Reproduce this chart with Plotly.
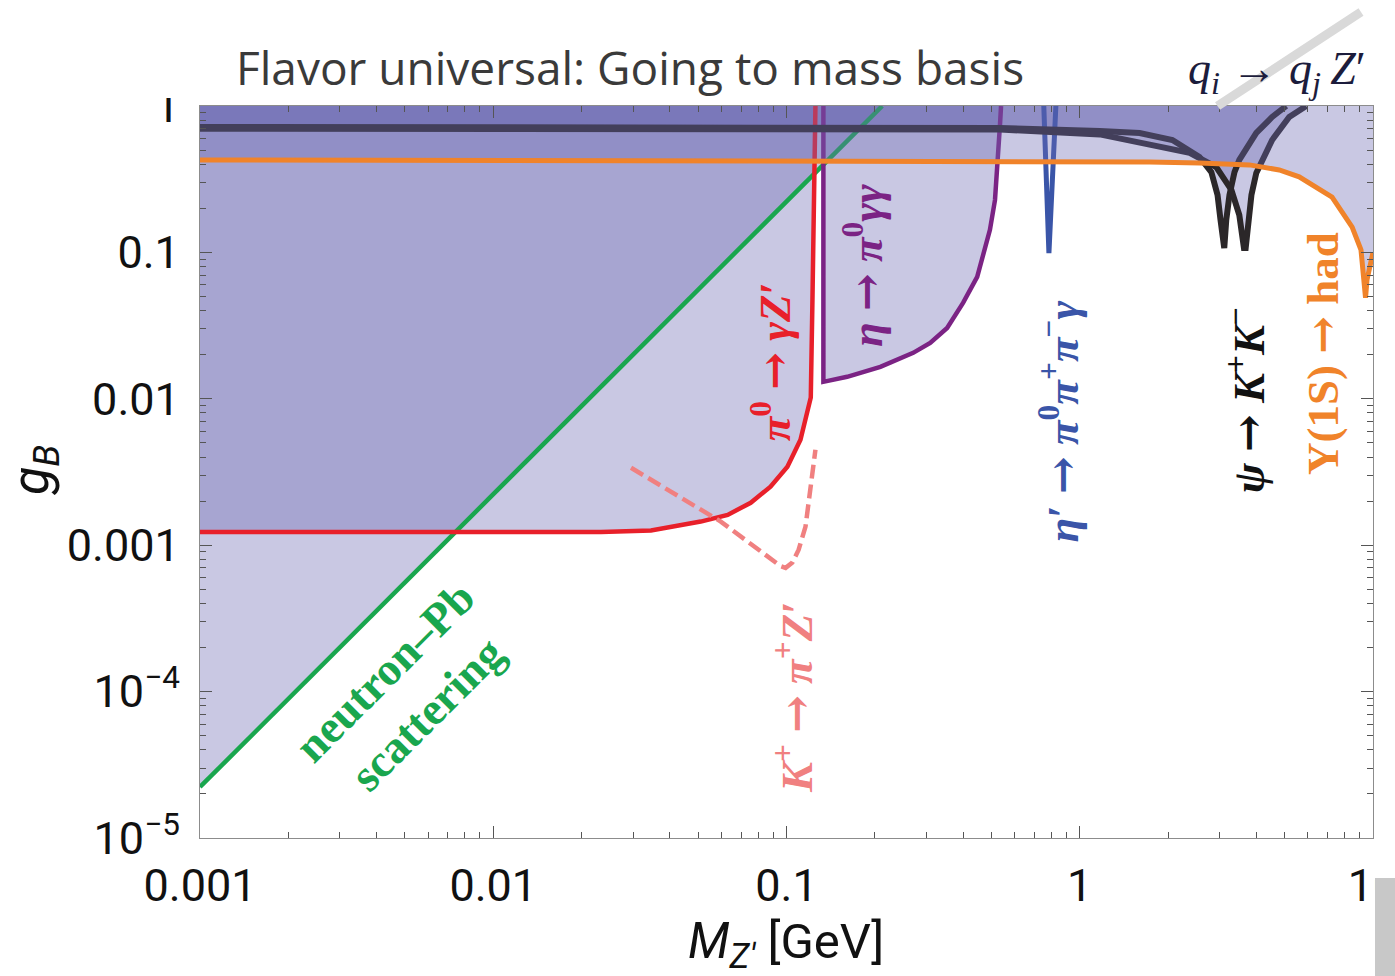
import numpy as np
import plotly.graph_objects as go

W, H = 1395, 976

# ---------------- data ----------------
# neutron-Pb scattering (green)
neutron_M = [0.001, 0.212]
neutron_g = [2.23e-5, 1.0]

# pi0 -> gamma Z' (red)
pi0_M = [0.001, 0.0233, 0.0345, 0.0510, 0.0630, 0.0755, 0.0882, 0.1007, 0.1116, 0.118, 0.121, 0.1226, 0.1255]
pi0_g = [1.23e-3, 1.23e-3, 1.26e-3, 1.45e-3, 1.61e-3, 1.95e-3, 2.51e-3, 3.43e-3, 5.25e-3, 8.02e-3, 0.0102, 0.0474, 1.0]

# K+ -> pi+ Z' (pink dashed)
kaon_M = [0.0295, 0.0597, 0.0954, 0.0993, 0.1047, 0.110, 0.1161, 0.121, 0.1255]
kaon_g = [3.38e-3, 1.45e-3, 7.2e-4, 7.0e-4, 7.6e-4, 9.31e-4, 1.34e-3, 2.39e-3, 4.49e-3]

# eta -> pi0 gamma gamma (purple)
eta_M = [0.1336, 0.1336, 0.161, 0.209, 0.2704, 0.309, 0.353, 0.400, 0.447, 0.468, 0.494, 0.514, 0.526, 0.535, 0.539]
eta_g = [1.0, 0.01306, 0.01413, 0.01653, 0.0206, 0.0241, 0.0305, 0.0452, 0.0681, 0.0932, 0.1425, 0.228, 0.408, 0.765, 1.0]

# eta' -> pi0 pi+ pi- gamma (blue)
etap_M = [0.754, 0.785, 0.829]
etap_g = [1.0, 0.099, 1.0]

# psi -> K+ K- (black, two resonances)
psi1_M = [0.001, 0.535, 1.17, 1.60, 2.07, 2.56, 2.81, 2.95, 3.02, 3.08, 3.11, 3.16, 3.24, 3.37, 3.50, 4.00, 4.53, 5.06]
psi1_g = [0.719, 0.708, 0.675, 0.654, 0.586, 0.449, 0.354, 0.247, 0.167, 0.107, 0.107, 0.167, 0.247, 0.354, 0.428, 0.654, 0.841, 1.0]
psi2_M = [0.001, 0.535, 1.17, 1.60, 2.37, 2.92, 3.29, 3.50, 3.63, 3.68, 3.76, 3.85, 4.00, 4.53, 5.18, 5.92]
psi2_g = [0.70, 0.69, 0.64, 0.559, 0.478, 0.383, 0.267, 0.180, 0.107, 0.107, 0.180, 0.247, 0.349, 0.586, 0.841, 1.0]

# Upsilon(1S) -> had (orange)
ups_M = [0.001, 0.535, 1.73, 2.56, 3.79, 4.79, 5.60, 7.25, 8.49, 9.10, 9.31, 9.43, 9.54, 10.0]
ups_g = [0.428, 0.421, 0.415, 0.408, 0.396, 0.366, 0.328, 0.239, 0.149, 0.104, 0.070, 0.049, 0.065, 0.10]

# q_i -> q_j Z' (grey, running above the frame)
fcnc_M = [2.95, 9.1]
fcnc_g = [1.0, 4.38]

# ticks
x_ticks = [0.001, 0.01, 0.1, 1, 10]
x_ticktext = ["0.001", "0.01", "0.1", "1", "10"]
y_ticks = [1e-5, 1e-4, 1e-3, 1e-2, 0.1, 1]
y_ticktext = ["10<sup>\u22125</sup>", "10<sup>\u22124</sup>", "0.001", "0.01", "0.1", "1"]

# ---------------- styling ----------------
FILL = "rgba(109,106,179,0.37)"
GREEN, RED, PINK = "#19a64e", "#e8202a", "#f08080"
PURPLE, BLUE, BLACK, ORANGE = "#7b2384", "#3a55a8", "#2b2729", "#f0832a"
SERIF = "Liberation Serif"
ARROW = '<span style="font-family:DejaVu Serif">→</span>'

x_range = [-3, 1]
y_range = [-5, 0]
x_dom = [200 / W, 1373 / W]
y_dom = [(H - 838) / H, (H - 106) / H]


def extend(rng, dom):
    k = (rng[1] - rng[0]) / (dom[1] - dom[0])
    return [rng[0] - dom[0] * k, rng[1] + (1 - dom[1]) * k]


minor_x = [k * 10.0 ** e for e in range(-3, 1) for k in range(2, 10)]
minor_y = [k * 10.0 ** e for e in range(-5, 0) for k in range(2, 10)]

fig = go.Figure()


def fill(xs, ys):
    fig.add_trace(go.Scatter(x=xs, y=ys, mode="none", fill="toself", fillcolor=FILL,
                             hoverinfo="skip", showlegend=False))


def line(xs, ys, color, width, dash=None, **kw):
    fig.add_trace(go.Scatter(x=xs, y=ys, mode="lines", showlegend=False, hoverinfo="skip",
                             line=dict(color=color, width=width, dash=dash), **kw))


# excluded regions (semi-transparent, overlapping)
fill(neutron_M + [neutron_M[0]], neutron_g + [1.0])
fill(pi0_M + [pi0_M[0]], pi0_g + [1.0])
fill(eta_M, eta_g)
fill(psi1_M + [psi1_M[0]], psi1_g + [1.0])
fill(psi2_M + [psi2_M[0]], psi2_g + [1.0])

# boundary lines
line(neutron_M, neutron_g, GREEN, 4.5)
line(pi0_M, pi0_g, RED, 4.5)
line(kaon_M, kaon_g, PINK, 4.5, dash="14px,6px")
line(eta_M, eta_g, PURPLE, 4.5)
line(etap_M, etap_g, BLUE, 5)
line(psi1_M, psi1_g, BLACK, 6)
line(psi2_M, psi2_g, BLACK, 6)

# Upsilon region covers the lines above it, its own line on top
fill(ups_M + [ups_M[-1], ups_M[0]], ups_g + [1.0, 1.0])
line(ups_M, ups_g, ORANGE, 5)

# grey FCNC line on a full-page overlay axis pair
line(fcnc_M, fcnc_g, "#d9d9d9", 9, xaxis="x2", yaxis="y2")

axis_common = dict(type="log", showline=True, linecolor="#8c8c8c", linewidth=1.3,
                   mirror="allticks", ticks="inside", ticklen=12, tickwidth=1.2,
                   tickcolor="#555555", showgrid=False, zeroline=False, automargin=False,
                   ticklabeloverflow="allow",
                   tickfont=dict(family="Roboto", size=45, color="#111111"))

fig.update_layout(
    width=W, height=H,
    margin=dict(l=0, r=0, t=0, b=0, autoexpand=False),
    paper_bgcolor="white", plot_bgcolor="rgba(0,0,0,0)",
    xaxis=dict(**axis_common, range=x_range, domain=x_dom, anchor="y",
               tickmode="array", tickvals=x_ticks, ticktext=x_ticktext,
               ticklabelstandoff=8,
               minor=dict(tickmode="array", tickvals=minor_x, ticks="inside", ticklen=6,
                          tickwidth=1, tickcolor="#555555", showgrid=False)),
    yaxis=dict(**axis_common, range=y_range, domain=y_dom, anchor="x",
               tickmode="array", tickvals=y_ticks, ticktext=y_ticktext,
               ticklabelstandoff=10,
               minor=dict(tickmode="array", tickvals=minor_y, ticks="inside", ticklen=6,
                          tickwidth=1, tickcolor="#555555", showgrid=False)),
    xaxis2=dict(type="log", domain=[0, 1], range=extend(x_range, x_dom), visible=False, anchor="y2"),
    yaxis2=dict(type="log", domain=[0, 1], range=extend(y_range, y_dom), visible=False, anchor="x2"),
)

LAB = 45
annotations = [
    dict(x=np.log10(0.0889), y=np.log10(0.0179), textangle=-90,
         text=f"<b><i>π</i><sup>0</sup> {ARROW} <i>γZ</i>′</b>", font=dict(family=SERIF, size=LAB, color=RED)),
    dict(x=np.log10(0.184), y=np.log10(0.0809), textangle=-90,
         text=f"<b><i>η</i> {ARROW} <i>π</i><sup>0</sup><i>γγ</i></b>", font=dict(family=SERIF, size=LAB, color=PURPLE)),
    dict(x=np.log10(0.855), y=np.log10(6.97e-3), textangle=-90,
         text=f"<b><i>η</i>′ {ARROW} <i>π</i><sup>0</sup><i>π</i><sup>+</sup><i>π</i><sup>−</sup><i>γ</i></b>",
         font=dict(family=SERIF, size=LAB, color=BLUE)),
    dict(x=np.log10(0.1056), y=np.log10(9.24e-5), textangle=-90,
         text=f"<b><i>K</i><sup>+</sup> {ARROW} <i>π</i><sup>+</sup><i>Z</i>′</b>", font=dict(family=SERIF, size=LAB, color=PINK)),
    dict(x=np.log10(3.70), y=np.log10(9.84e-3), textangle=-90,
         text=f"<b><i>ψ</i> {ARROW} <i>K</i><sup>+</sup><i>K</i><sup>−</sup></b>", font=dict(family=SERIF, size=LAB, color="#111111")),
    dict(x=np.log10(6.76), y=np.log10(0.0203), textangle=-90,
         text=f"<b>Υ(1S) {ARROW} had</b>", font=dict(family=SERIF, size=LAB, color=ORANGE)),
    dict(x=np.log10(5.06e-3), y=np.log10(9.85e-5), textangle=-45,
         text="<b>neutron–Pb<br>scattering</b>", font=dict(family=SERIF, size=46, color=GREEN)),
]
for a in annotations:
    a.update(xref="x", yref="y")

annotations += [
    dict(xref="x2", yref="y2", x=np.log10(4.72), y=np.log10(1.71),
         text="<i>q<sub>i</sub></i> → <i>q<sub>j</sub></i>\u2009<i>Z</i>′",
         font=dict(family=SERIF, size=46, color="#1c1c3c")),
    dict(xref="paper", yref="paper", x=630 / W, y=1 - 67 / H,
         text="Flavor universal: Going to mass basis",
         font=dict(family="Open Sans", size=46, color="#3a3a3a")),
    dict(xref="paper", yref="paper", x=786 / W, y=1 - 944 / H,
         text="<i>M</i><sub><i>Z′</i></sub> [GeV]",
         font=dict(family="Roboto", size=49, color="#111111")),
    dict(xref="paper", yref="paper", x=34 / W, y=1 - 470 / H, textangle=-90,
         text="<i>g</i><sub><i>B</i></sub>",
         font=dict(family="Roboto", size=52, color="#111111")),
]
for a in annotations:
    a.update(showarrow=False, xanchor="center", yanchor="middle")
fig.update_layout(annotations=annotations)

# page artefacts of the reference screenshot (clipped page edge + scrollbar)
fig.update_layout(shapes=[
    dict(type="rect", xref="paper", yref="paper", x0=150 / W, x1=197 / W, y0=1 - 98 / H, y1=1,
         fillcolor="white", line=dict(width=0), layer="above"),
    dict(type="rect", xref="paper", yref="paper", x0=1375 / W, x1=1, y0=1 - 878 / H, y1=1,
         fillcolor="white", line=dict(width=0), layer="above"),
    dict(type="rect", xref="paper", yref="paper", x0=1375 / W, x1=1, y0=0, y1=1 - 878 / H,
         fillcolor="#c8c8c8", line=dict(width=0), layer="above"),
])

fig.write_html("out.html")
